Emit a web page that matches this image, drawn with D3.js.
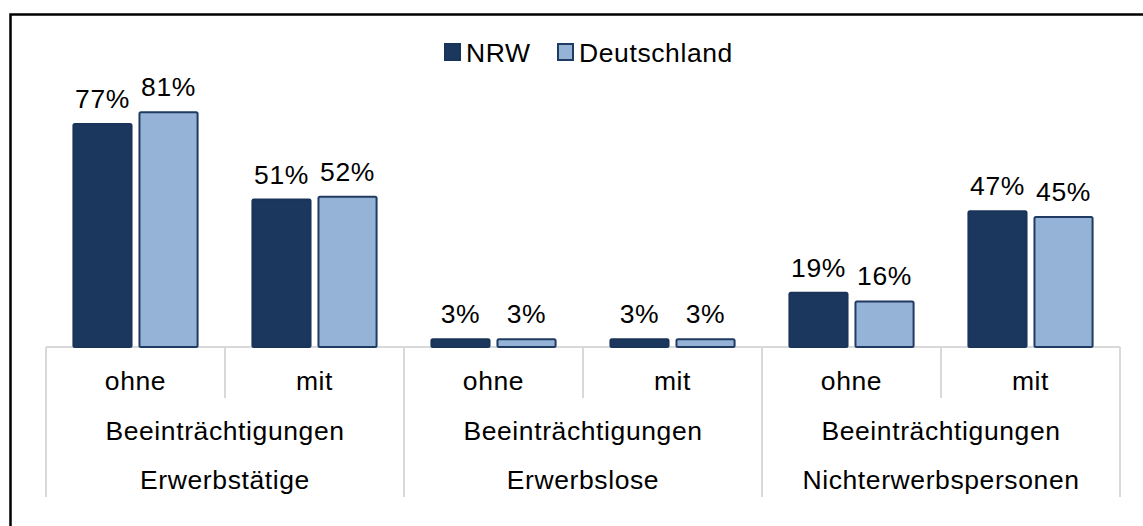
<!DOCTYPE html>
<html>
<head>
<meta charset="utf-8">
<script src="https://cdn.jsdelivr.net/npm/d3@7"></script>
<style>
  html, body { margin: 0; padding: 0; background: #fff; }
  svg { display: block; font-family: "Liberation Sans", Arial, sans-serif; }
  text { letter-spacing: 0.6px; }
</style>
</head>
<body>
<div id="chart"></div>
<script>
// Data
const groups     = ["Erwerbstätige", "Erwerbslose", "Nichterwerbspersonen"];
const subLabels  = ["ohne", "mit"];
const groupLine  = "Beeinträchtigungen";
const seriesKeys = ["NRW", "Deutschland"];
const nrwValues  = [77, 51, 3, 3, 19, 47];
const deValues   = [81, 52, 3, 3, 16, 45];

const COLORS = {
  NRW:         { fill: "#1c375e", stroke: "#1a3358" },
  Deutschland: { fill: "#95b3d7", stroke: "#203a62" },
};

const width = 1143, height = 526;
const svg = d3.select("#chart").append("svg")
  .attr("width", width)
  .attr("height", height);

// outer frame (cut off at right/bottom in the reference)
svg.append("rect")
  .attr("x", 10.5).attr("y", 14.5)
  .attr("width", 1300).attr("height", 700)
  .attr("fill", "none")
  .attr("stroke", "#000")
  .attr("stroke-width", 2.5);

// one row per bar pair
const cats = [];
groups.forEach((g, gi) => subLabels.forEach((s, si) => {
  const i = gi * subLabels.length + si;
  cats.push({ id: i, group: g, sub: s, NRW: nrwValues[i], Deutschland: deValues[i] });
}));

const left = 46, right = 1120, baseY = 347;
const fontSize = 26.5;

const x0 = d3.scaleBand().domain(cats.map(d => d.id)).range([left, right]);
const x1 = d3.scaleBand().domain(seriesKeys).range([0, x0.bandwidth()])
  .paddingInner(0.09).paddingOuter(0.4);
const y = d3.scaleLinear().domain([0, 100]).range([baseY, 56]);

const grid = "#d9d9d9";
const axis = svg.append("g").attr("stroke", grid).attr("stroke-width", 2);

// baseline
axis.append("line")
  .attr("x1", left).attr("x2", right)
  .attr("y1", baseY).attr("y2", baseY);

// short dividers between ohne / mit
cats.forEach((d, i) => {
  if (i % 2 === 1) {
    axis.append("line")
      .attr("x1", x0(d.id)).attr("x2", x0(d.id))
      .attr("y1", baseY).attr("y2", 398);
  }
});

// long dividers between groups
const groupEdges = d3.range(groups.length + 1).map(k =>
  k < groups.length ? x0(k * 2) : right);
groupEdges.forEach(xv => {
  axis.append("line")
    .attr("x1", xv).attr("x2", xv)
    .attr("y1", baseY).attr("y2", 497);
});

// bars
const barG = svg.append("g")
  .selectAll("g")
  .data(cats)
  .join("g")
  .attr("transform", d => `translate(${x0(d.id)},0)`);

barG.selectAll("rect")
  .data(d => seriesKeys.map(k => ({ key: k, value: d[k] })))
  .join("rect")
  .attr("x", d => x1(d.key) + 1)
  .attr("width", x1.bandwidth() - 2)
  .attr("y", d => y(d.value) + 1)
  .attr("height", d => baseY - y(d.value) - 1)
  .attr("rx", 1.5)
  .attr("fill", d => COLORS[d.key].fill)
  .attr("stroke", d => COLORS[d.key].stroke)
  .attr("stroke-width", 2);

// value labels
barG.selectAll("text")
  .data(d => seriesKeys.map(k => ({ key: k, value: d[k] })))
  .join("text")
  .attr("x", d => x1(d.key) + x1.bandwidth() / 2)
  .attr("y", d => y(d.value) - 15)
  .attr("text-anchor", "middle")
  .attr("font-size", fontSize)
  .attr("fill", "#000")
  .text(d => d.value + "%");

// category labels
svg.append("g")
  .selectAll("text")
  .data(cats)
  .join("text")
  .attr("x", d => x0(d.id) + x0.bandwidth() / 2)
  .attr("y", 390)
  .attr("text-anchor", "middle")
  .attr("font-size", fontSize)
  .text(d => d.sub);

// group labels
const gl = svg.append("g")
  .selectAll("g")
  .data(groups)
  .join("g")
  .attr("transform", (d, i) => `translate(${(groupEdges[i] + groupEdges[i + 1]) / 2},0)`)
  .attr("text-anchor", "middle")
  .attr("font-size", fontSize);
gl.append("text").attr("y", 440).text(groupLine);
gl.append("text").attr("y", 489).text(d => d);

// legend
const legend = svg.append("g").attr("font-size", fontSize);
const legendX = [444, 557];
seriesKeys.forEach((k, i) => {
  legend.append("rect")
    .attr("x", legendX[i] + 1).attr("y", 44)
    .attr("width", 15).attr("height", 16)
    .attr("fill", COLORS[k].fill)
    .attr("stroke", COLORS[k].stroke)
    .attr("stroke-width", 2);
  legend.append("text")
    .attr("x", legendX[i] + 22).attr("y", 62)
    .text(k);
});
</script>
</body>
</html>
